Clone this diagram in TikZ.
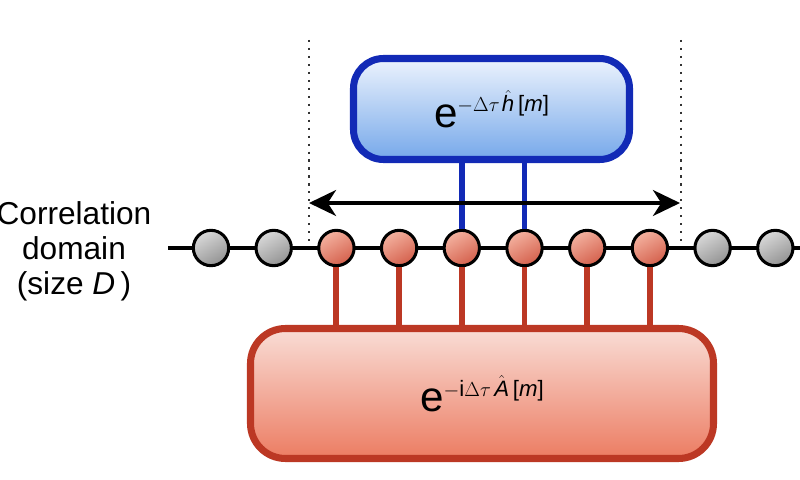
\documentclass[tikz,border=0pt]{standalone}
\usepackage{fontspec}
\setmainfont{Liberation Sans}
\usetikzlibrary{arrows.meta}

\definecolor{hblue}{RGB}{18,42,182}
\definecolor{hbluetop}{RGB}{236,243,253}
\definecolor{hbluebot}{RGB}{118,168,234}
\definecolor{ared}{RGB}{188,56,36}
\definecolor{aredtop}{RGB}{249,221,214}
\definecolor{aredbot}{RGB}{236,124,98}
\definecolor{sitetop}{RGB}{244,178,160}
\definecolor{sitebot}{RGB}{212,96,76}

% big e with a raised exponent
\newcommand{\bigexp}[1]{{\fontsize{36}{36}\selectfont e}\raisebox{13pt}{\fontsize{19}{19}\selectfont #1}}

\tikzset{
  site/.style={circle, draw=black, line width=2.6pt, minimum size=1.06cm, inner sep=0pt},
  graysite/.style={site, top color=gray!30, bottom color=gray!85, shading angle=30},
  redsite/.style={site, top color=sitetop, bottom color=sitebot, shading angle=30},
  chain/.style={line width=3.4pt, black},
  hleg/.style={line width=5pt, hblue},
  aleg/.style={line width=5pt, ared},
  domainarrow/.style={line width=3.4pt, {Stealth[length=23pt, width=22pt, inset=7pt]}-{Stealth[length=23pt, width=22pt, inset=7pt]}},
  edge/.style={line width=1.8pt, dash pattern=on 1.8pt off 5pt, black!80},
}

\begin{document}
\begin{tikzpicture}[x=0.03cm, y=-0.03cm]
\useasboundingbox (0,0) rectangle (800,480);

% domain edges
\coordinate (edgeLt) at (309,40);
\coordinate (edgeLb) at (309,245);
\coordinate (edgeRt) at (681,40);
\coordinate (edgeRb) at (681,245);
\draw[edge] (edgeLt) -- (edgeLb);
\draw[edge] (edgeRt) -- (edgeRb);

% chain
\coordinate (chainL) at (168,248);
\coordinate (chainR) at (800,248);
\draw[chain] (chainL) -- (chainR);

\foreach \i in {1,2,9,10}
  \node[graysite] (s\i) at ({211+62.7*(\i-1)},248) {};
\foreach \i in {3,...,8}
  \node[redsite] (s\i) at ({211+62.7*(\i-1)},248) {};

% gates
\node[draw=hblue, line width=6pt, rounded corners=0.9cm,
      minimum width=8.28cm, minimum height=3.03cm,
      top color=hbluetop, bottom color=hbluebot] (hbox) at (491.5,109)
  {\bigexp{$-\Delta\tau\mkern2mu\hat{\textit{h}}$\,[\textit{m}]}};
\node[draw=ared, line width=6pt, rounded corners=1.05cm,
      minimum width=13.89cm, minimum height=3.9cm,
      top color=aredtop, bottom color=aredbot] (abox) at (482,393.5)
  {\bigexp{$-$i$\Delta\tau\,\hat{\textit{A}}$\,[\textit{m}]}};

\draw[hleg] (hbox.south -| s5) -- (s5);
\draw[hleg] (hbox.south -| s6) -- (s6);
\foreach \i in {3,...,8}
  \draw[aleg] (s\i) -- (abox.north -| s\i);

% correlation domain
\coordinate (arrL) at (309,203);
\coordinate (arrR) at (680,203);
\draw[domainarrow] (arrL) -- (arrR);

\node[align=center, font=\fontsize{27}{30}\selectfont] (dlabel) at (74,251)
  {Correlation\\domain\\(size \textit{D}\,)};

\end{tikzpicture}
\end{document}
